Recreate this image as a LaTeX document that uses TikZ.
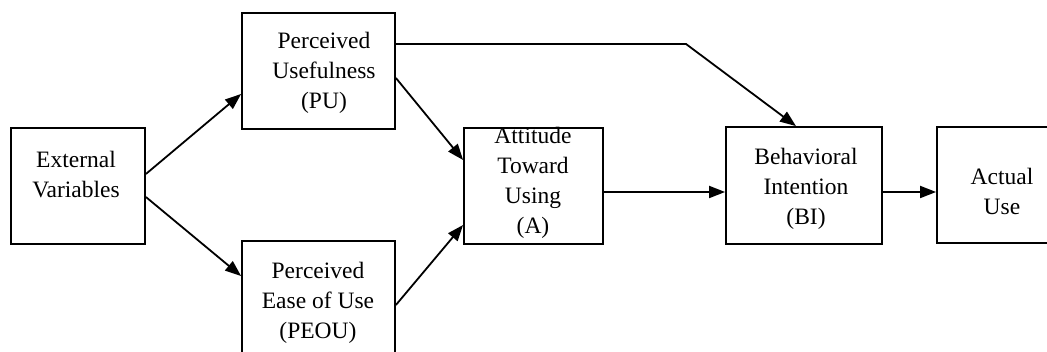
\documentclass[tikz,border=0pt]{standalone}
\usepackage{fontspec}
\setmainfont{Liberation Serif}
\usetikzlibrary{arrows.meta}
\begin{document}
\begin{tikzpicture}[x=1pt,y=-1pt,
  box/.style={draw=black,line width=1.8pt,fill=none,inner sep=0pt},
  lbl/.style={align=center,inner sep=0pt,font=\fontsize{23.5pt}{30pt}\selectfont},
  link/.style={line width=1.8pt,-{Triangle[length=16pt,width=12pt]}}]
\useasboundingbox (0,0) rectangle (1047,352);
% boxes
\node[box,minimum width=134pt,minimum height=116pt] (ext)  at (78,186) {};
\node[box,minimum width=153pt,minimum height=116pt] (pu)   at (318.5,71) {};
\node[box,minimum width=153pt,minimum height=116pt] (peou) at (318.5,299) {};
\node[box,minimum width=139pt,minimum height=116pt] (att)  at (533.5,186) {};
\node[box,minimum width=156pt,minimum height=117pt] (bi)   at (804,185.5) {};
\node[box,minimum width=140pt,minimum height=116pt] (use)  at (1007,185) {};
% labels
\node[lbl] (extT)  at (76,175)  {External\\Variables};
\node[lbl] (puT)   at (324,73)  {Perceived\\Usefulness\\(PU)};
\node[lbl] (peouT) at (318,303) {Perceived\\Ease of Use\\(PEOU)};
\node[lbl] (attT)  at (533,183) {Attitude\\Toward\\Using\\(A)};
\node[lbl] (biT)   at (806,189) {Behavioral\\Intention\\(BI)};
\node[lbl] (useT)  at (1002,191) {Actual\\Use};
% connectors
\coordinate (bend) at (686,44);
\draw[link] ([yshift=12pt]ext.east) -- ([yshift=-23pt]pu.west);
\draw[link] ([yshift=-11pt]ext.east) -- ([yshift=23pt]peou.west);
\draw[link] ([yshift=-7pt]pu.east) -- ([yshift=26pt]att.west);
\draw[link] ([yshift=-6pt]peou.east) -- ([yshift=-39pt]att.west);
\draw[link] ([yshift=27pt]pu.east) -- (bend) -- ([xshift=-8pt]bi.north);
\draw[link] ([yshift=-6pt]att.east) -- ([yshift=-6.5pt]bi.west);
\draw[link] ([yshift=-6.5pt]bi.east) -- ([yshift=-7pt]use.west);
\end{tikzpicture}
\end{document}
